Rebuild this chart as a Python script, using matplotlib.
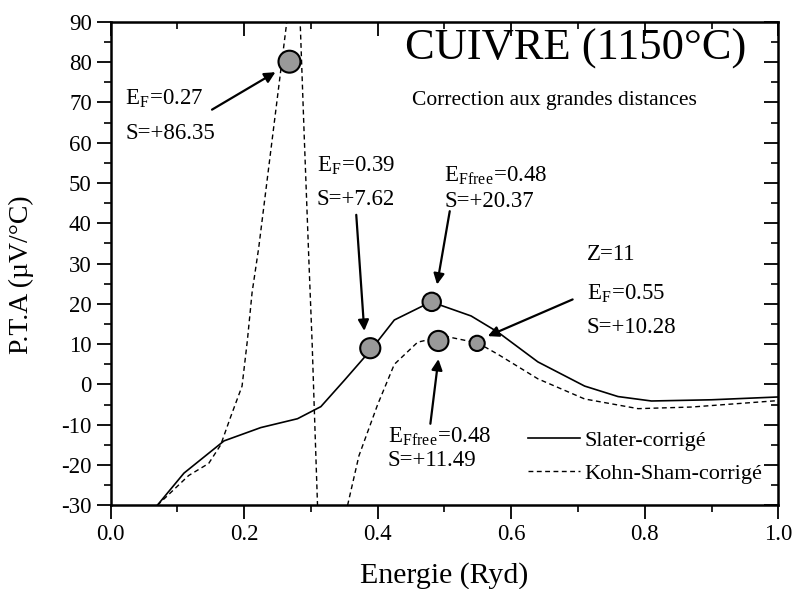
import numpy as np
import matplotlib
matplotlib.use('Agg')
import matplotlib.pyplot as plt
from matplotlib.ticker import MultipleLocator

# Slater-corrige (solid)
slater_x = [0.07, 0.11, 0.17, 0.225, 0.28, 0.315, 0.35, 0.39, 0.425, 0.48, 0.54, 0.58, 0.64, 0.71, 0.76, 0.81, 0.9, 1.0]
slater_y = [-30, -22, -14, -10.7, -8.5, -5.5, 1.0, 8.6, 16, 20.5, 17, 13, 5.6, -0.4, -3.0, -4.1, -3.8, -3.1]

# Kohn-Sham-corrige (dashed), three branches separated by nan
ks_x = [0.07, 0.117, 0.147, 0.165, 0.18, 0.197, 0.205, 0.212, 0.222, 0.243, 0.264, 0.266,
        np.nan,
        0.283, 0.284, 0.29, 0.297, 0.302, 0.305, 0.31, 0.311,
        np.nan,
        0.355, 0.372, 0.4, 0.425, 0.46, 0.5, 0.55, 0.58, 0.64, 0.71, 0.79, 0.87, 1.0]
ks_y = [-30, -22.6, -19.6, -15, -8, -0.4, 11, 22.8, 34, 62, 90, 93,
        np.nan,
        93, 90, 62, 31, 10, -5.3, -30, -32,
        np.nan,
        -30, -17.7, -5, 5, 10.5, 12, 10.3, 7.5, 1.4, -3.6, -6.0, -5.6, -4.0]

# points marqués
pt_x = [0.268, 0.389, 0.481, 0.491, 0.549]
pt_y = [80.1, 9.0, 20.5, 10.8, 10.2]
pt_s = [250, 210, 175, 210, 120]

plt.rcParams['font.family'] = ['Liberation Serif', 'DejaVu Serif']
plt.rcParams['mathtext.fontset'] = 'stix'
plt.rcParams['axes.unicode_minus'] = False

fig = plt.figure(figsize=(7.95, 5.89), dpi=100)
ax = fig.add_axes([0.139, 0.142, 0.840, 0.821])

ax.plot(slater_x, slater_y, color='k', lw=1.2, label='Slater-corrigé')
ax.plot(ks_x, ks_y, color='k', lw=1.0, dashes=(3.5, 2.5), label='Kohn-Sham-corrigé')
ax.scatter(pt_x, pt_y, s=pt_s, facecolor='#999999', edgecolor='k', linewidth=1.5, zorder=5)

ax.set_xlim(0.0, 1.0)
ax.set_ylim(-30, 90)
ax.xaxis.set_minor_locator(MultipleLocator(0.1))
ax.yaxis.set_major_locator(MultipleLocator(10))
ax.yaxis.set_minor_locator(MultipleLocator(5))
ax.set_xticks([0.0, 0.2, 0.4, 0.6, 0.8, 1.0])
ax.set_xticklabels(['0.0', '0.2', '0.4', '0.6', '0.8', '1.0'])
ax.tick_params(which='major', direction='out', length=10, width=1.3, labelsize=16.5)
ax.tick_params(which='minor', direction='out', length=5, width=1.2)
for s in ax.spines.values():
    s.set_linewidth(1.8)

# ticks interieurs haut / droite
axt = ax.secondary_xaxis('top')
axt.xaxis.set_major_locator(MultipleLocator(0.2))
axt.xaxis.set_minor_locator(MultipleLocator(0.1))
axt.tick_params(which='major', direction='in', length=10, width=1.3, labeltop=False)
axt.tick_params(which='minor', direction='in', length=5, width=1.2)
axr = ax.secondary_yaxis('right')
axr.yaxis.set_major_locator(MultipleLocator(10))
axr.yaxis.set_minor_locator(MultipleLocator(5))
axr.tick_params(which='major', direction='in', length=10, width=1.3, labelright=False)
axr.tick_params(which='minor', direction='in', length=5, width=1.2)

ax.set_xlabel('Energie (Ryd)', fontsize=21.5, labelpad=12)
ax.set_ylabel('P.T.A (µV/°C)', fontsize=20)
ax.yaxis.set_label_coords(-0.114, 0.476)

ax.text(0.697, 83.3, 'CUIVRE (1150°C)', fontsize=32, ha='center', va='center')
ax.text(0.665, 70.5, 'Correction aux grandes distances', fontsize=15.5, ha='center', va='center')

fs = 16.5
sub_F = r'E$_\mathregular{F}$'
sub_Ff = r'E$_\mathregular{Ffree}$'
ax.text(0.022, 71.2, sub_F + '=0.27', fontsize=fs, va='center')
ax.text(0.022, 62.3, 'S=+86.35', fontsize=fs, va='center')
ax.text(0.309, 54.4, sub_F + '=0.39', fontsize=fs, va='center')
ax.text(0.309, 45.8, 'S=+7.62', fontsize=fs, va='center')
ax.text(0.500, 52.0, sub_Ff + '=0.48', fontsize=fs, va='center')
ax.text(0.500, 45.3, 'S=+20.37', fontsize=fs, va='center')
ax.text(0.713, 32.2, 'Z=11', fontsize=fs, va='center')
ax.text(0.713, 22.8, sub_F + '=0.55', fontsize=fs, va='center')
ax.text(0.713, 14.2, 'S=+10.28', fontsize=fs, va='center')
ax.text(0.415, -12.7, sub_Ff + '=0.48', fontsize=fs, va='center')
ax.text(0.415, -18.9, 'S=+11.49', fontsize=fs, va='center')

arrow = dict(arrowstyle='-|>', color='k', lw=1.6, mutation_scale=16, shrinkA=0, shrinkB=0)
ax.annotate('', xy=(0.247, 77.5), xytext=(0.152, 68.2), arrowprops=arrow)
ax.annotate('', xy=(0.380, 13.3), xytext=(0.368, 42.1), arrowprops=arrow)
ax.annotate('', xy=(0.489, 24.8), xytext=(0.508, 43.0), arrowprops=arrow)
ax.annotate('', xy=(0.565, 12.0), xytext=(0.692, 21.1), arrowprops=arrow)
ax.annotate('', xy=(0.491, 6.3), xytext=(0.479, -9.75), arrowprops=arrow)

ax.legend(loc='lower left', bbox_to_anchor=(0.625, 0.045), frameon=False, fontsize=16,
          handlelength=2.35, handletextpad=0.2, labelspacing=0.55, borderpad=0, borderaxespad=0)

fig.savefig('out.png', dpi=100)
